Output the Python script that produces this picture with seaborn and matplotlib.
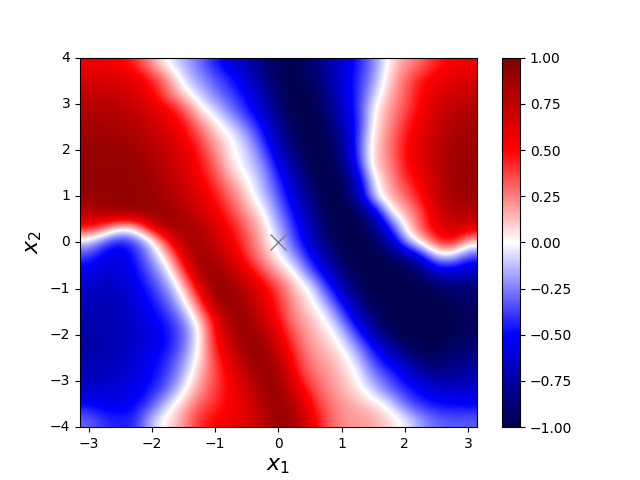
import numpy as np
import matplotlib
matplotlib.use("Agg")
import matplotlib.pyplot as plt
import seaborn as sns

x_ticks = [-3, -2, -1, 0, 1, 2, 3]
y_ticks = [-4, -3, -2, -1, 0, 1, 2, 3, 4]
cbar_ticks = [-1, -0.75, -0.5, -0.25, 0, 0.25, 0.5, 0.75, 1]
x_range = (-np.pi, np.pi)
y_range = (-4, 4)

# values, top row first (x2 = 4 down to -4)
z_rows = [
    [.55,.55,.52,.42,.2,-.02,-.15,-.28,-.45,-.58,-.72,-.85,-.98,-.98,-.9,-.78,-.62,-.45,-.25,.05,.2,.3,.45,.52,.55],
    [.65,.65,.62,.58,.45,.25,-.06,-.2,-.33,-.45,-.62,-.8,-.95,-1,-.95,-.8,-.6,-.42,-.2,.1,.3,.47,.55,.62,.65],
    [.72,.72,.7,.65,.52,.3,.08,-.1,-.25,-.38,-.5,-.72,-.92,-1,-1,-.85,-.62,-.42,-.12,.15,.32,.5,.62,.68,.72],
    [.8,.8,.78,.72,.62,.52,.35,.05,-.1,-.28,-.45,-.65,-.88,-1,-1,-.9,-.65,-.42,0,.2,.35,.52,.68,.75,.8],
    [.84,.84,.82,.78,.7,.6,.48,.25,.05,-.12,-.3,-.52,-.8,-.98,-1,-.95,-.72,-.45,.03,.22,.42,.57,.72,.8,.84],
    [.88,.88,.87,.82,.75,.68,.55,.38,.15,.02,-.15,-.42,-.72,-.95,-1,-.98,-.8,-.4,.08,.25,.47,.6,.75,.84,.87],
    [.9,.9,.9,.88,.8,.72,.62,.45,.25,.03,-.08,-.3,-.62,-.88,-1,-1,-.85,-.38,.1,.25,.5,.62,.78,.86,.88],
    [.92,.92,.92,.9,.85,.75,.66,.5,.32,.08,-.05,-.2,-.5,-.78,-.98,-1,-.92,-.48,.1,.22,.47,.6,.78,.88,.9],
    [.92,.92,.92,.92,.88,.78,.68,.55,.4,.2,.03,-.15,-.4,-.68,-.92,-1,-.98,-.68,-.05,.18,.4,.53,.72,.88,.9],
    [.9,.92,.92,.92,.9,.82,.75,.62,.48,.3,.1,-.1,-.32,-.6,-.85,-1,-1,-.75,-.1,.15,.28,.5,.72,.85,.88],
    [.75,.85,.9,.92,.92,.9,.8,.7,.55,.38,.2,.02,-.25,-.5,-.78,-.98,-1,-.98,-.7,-.05,.15,.35,.65,.8,.8],
    [.5,.35,.05,.12,.6,.85,.88,.8,.65,.48,.3,.1,-.15,-.42,-.7,-.95,-1,-1,-.88,-.45,.03,.35,.6,.7,.62],
    [-.1,-.35,-.5,-.38,-.1,.4,.8,.85,.72,.55,.35,.15,-.08,-.35,-.62,-.88,-1,-1,-.98,-.75,-.2,.08,.42,.5,.1],
    [-.4,-.55,-.6,-.45,-.2,.1,.6,.9,.82,.62,.42,.2,.02,-.2,-.48,-.75,-.98,-1,-1,-.98,-.85,-.55,-.12,-.15,-.4],
    [-.55,-.62,-.62,-.5,-.32,-.08,.35,.85,.92,.78,.58,.35,.15,0,-.32,-.6,-.85,-1,-1,-1,-1,-.9,-.62,-.6,-.68],
    [-.65,-.68,-.65,-.55,-.4,-.22,.1,.6,.92,.88,.75,.55,.35,.12,-.03,-.38,-.7,-.95,-1,-1,-1,-1,-.95,-.88,-.88],
    [-.68,-.7,-.68,-.6,-.48,-.32,-.05,.35,.88,.92,.82,.6,.42,.18,.05,-.2,-.5,-.82,-1,-1,-1,-1,-1,-.95,-.92],
    [-.72,-.72,-.7,-.62,-.52,-.42,-.22,.15,.55,.92,.88,.68,.47,.22,.12,-.02,-.32,-.65,-.9,-1,-1,-1,-1,-1,-.95],
    [-.75,-.72,-.7,-.65,-.58,-.48,-.32,-.02,.5,.8,.92,.8,.55,.3,.16,.06,-.12,-.45,-.75,-1,-1,-1,-1,-.98,-.95],
    [-.75,-.72,-.7,-.65,-.58,-.48,-.3,.02,.45,.72,.92,.9,.65,.38,.2,.12,0,-.25,-.5,-.75,-.95,-1,-1,-.95,-.9],
    [-.72,-.7,-.68,-.62,-.52,-.42,-.22,.05,.38,.6,.85,.92,.78,.45,.25,.18,.08,-.1,-.38,-.55,-.72,-.9,-.95,-.85,-.8],
    [-.7,-.68,-.65,-.6,-.5,-.38,-.15,.15,.35,.55,.75,.92,.88,.52,.3,.22,.12,0,-.25,-.38,-.55,-.72,-.8,-.78,-.72],
    [-.65,-.62,-.6,-.55,-.45,-.3,-.03,.2,.38,.52,.65,.88,.92,.65,.4,.25,.15,.05,-.1,-.3,-.42,-.52,-.6,-.65,-.62],
    [-.48,-.55,-.55,-.5,-.35,-.08,.12,.32,.42,.52,.62,.8,.92,.8,.5,.3,.22,.15,.08,-.04,-.3,-.42,-.48,-.5,-.5],
    [-.3,-.4,-.45,-.42,-.12,.05,.2,.42,.5,.55,.62,.75,.92,.85,.6,.35,.22,.2,.18,.08,-.02,-.2,-.3,-.33,-.32],
]

z = np.array(z_rows)
n_rows, n_cols = z.shape


def to_col(x):
    return (np.asarray(x) - x_range[0]) / (x_range[1] - x_range[0]) * n_cols


def to_row(y):
    return (y_range[1] - np.asarray(y)) / (y_range[1] - y_range[0]) * n_rows


fig, ax = plt.subplots(figsize=(6.4, 4.8), dpi=100)
sns.heatmap(z, cmap="seismic", vmin=-1, vmax=1, ax=ax, cbar_kws={"ticks": cbar_ticks})

# smooth version of the same cells on top of the heatmap
ax.imshow(z, cmap="seismic", vmin=-1, vmax=1, extent=(0, n_cols, n_rows, 0), aspect="auto",
          interpolation="bicubic", zorder=1.5)
ax.set_xlim(0, n_cols)
ax.set_ylim(n_rows, 0)

ax.plot(to_col(0), to_row(0), marker="x", color="gray", markersize=12, markeredgewidth=1)

ax.set_xticks(to_col(x_ticks))
ax.set_xticklabels([str(t).replace("-", "\u2212") for t in x_ticks], rotation=0)
ax.set_yticks(to_row(y_ticks))
ax.set_yticklabels([str(t).replace("-", "\u2212") for t in y_ticks], rotation=0)
ax.set_xlabel("$x_1$", fontsize=16)
ax.set_ylabel("$x_2$", fontsize=16)

for spine in ax.spines.values():
    spine.set_visible(True)
    spine.set_linewidth(0.8)
cbar = ax.collections[0].colorbar
cbar.outline.set_linewidth(0.8)
cbar.outline.set_edgecolor("black")

fig.savefig("out.png", dpi=100)
